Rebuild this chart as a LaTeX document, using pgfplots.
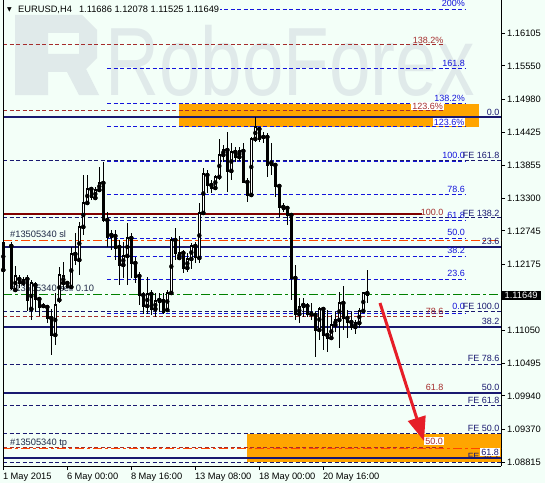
\documentclass[border=0pt]{standalone}
\usepackage{graphicx}
\usepackage{pgfplots}
\pgfplotsset{compat=1.18}
\usepackage{pgfplotstable}
\usetikzlibrary{arrows.meta}
\usepackage{fontspec}
\setmainfont{Liberation Sans}
\newfontfamily\dejavu{DejaVu Sans}
\definecolor{bg}{RGB}{243,255,248}
\definecolor{wm}{RGB}{224,234,234}
\definecolor{fibblue}{RGB}{20,20,220}
\definecolor{navyl}{RGB}{25,25,112}
\definecolor{brownd}{RGB}{165,45,45}
\definecolor{maroonl}{RGB}{128,0,0}
\definecolor{ored}{RGB}{255,69,0}
\definecolor{ogreen}{RGB}{0,128,0}
\definecolor{orangebox}{RGB}{255,165,0}
\definecolor{arrowred}{RGB}{230,30,40}
\definecolor{lbltext}{RGB}{30,40,70}
\tikzset{
  dsh/.style={dash pattern=on 4pt off 2.5pt, line width=1pt},
  dd/.style={dash pattern=on 9pt off 3pt on 3pt off 3pt, line width=1pt},
  thk/.style={line width=2pt},
}
\newcommand{\lvl}[4]{\addplot[#1, forget plot] coordinates {(#2,#4) (#3,#4)};}
\newcommand{\lab}[4]{\node[anchor=east, inner sep=0.5pt, text=#1, font=\fontsize{9}{10}\selectfont] at (axis cs:#2,#3) {#4};}
\newcommand{\labw}[4]{\node[anchor=east, inner xsep=1pt, inner ysep=0.5pt, fill=white, text=#1, font=\fontsize{9}{10}\selectfont] at (axis cs:#2,#3) {#4};}

\pgfplotstableread{
k o h l c
0 1.12081 1.12676 1.11996 1.12540
2 1.12489 1.12557 1.11741 1.11775
3 1.11741 1.12149 1.11724 1.11979
4 1.11928 1.11996 1.11775 1.11860
5 1.11860 1.11962 1.11809 1.11911
6 1.11928 1.11996 1.11384 1.11571
7 1.11418 1.11911 1.11231 1.11860
8 1.11826 1.11877 1.11367 1.11588
9 1.11588 1.11622 1.11299 1.11452
10 1.11469 1.11520 1.11435 1.11452
11 1.11452 1.11486 1.11180 1.11265
12 1.11265 1.11418 1.10636 1.10976
13 1.10976 1.11690 1.10806 1.11486
14 1.11571 1.12132 1.11520 1.11996
15 1.11860 1.12217 1.11741 1.11979
16 1.11860 1.11894 1.11775 1.11792
17 1.11792 1.12472 1.11775 1.12353
18 1.12353 1.12710 1.12166 1.12251
19 1.12251 1.12897 1.11996 1.12812
20 1.12812 1.13696 1.12676 1.13220
21 1.13220 1.13696 1.13186 1.13458
22 1.13458 1.13492 1.13271 1.13322
23 1.13305 1.13492 1.13271 1.13441
24 1.13441 1.13832 1.13407 1.13560
25 1.13560 1.13917 1.12897 1.12931
26 1.12931 1.13067 1.12472 1.12642
27 1.12676 1.12761 1.12421 1.12642
28 1.12659 1.12761 1.12251 1.12455
29 1.12472 1.12591 1.11826 1.12166
30 1.12166 1.12557 1.11945 1.12319
31 1.12319 1.12880 1.11826 1.12625
32 1.12625 1.12710 1.11945 1.12200
33 1.12200 1.12302 1.11860 1.11962
34 1.11979 1.12047 1.11486 1.11656
35 1.11656 1.11707 1.11333 1.11469
36 1.11469 1.11962 1.11333 1.11673
37 1.11673 1.11741 1.11316 1.11418
38 1.11418 1.11690 1.11282 1.11554
39 1.11571 1.11690 1.11367 1.11537
40 1.11554 1.11690 1.11333 1.11367
41 1.11401 1.11741 1.11367 1.11690
42 1.11690 1.12642 1.11673 1.12591
43 1.12591 1.12795 1.12251 1.12370
44 1.12285 1.12659 1.12251 1.12370
45 1.12370 1.12421 1.12030 1.12115
46 1.12115 1.12370 1.12047 1.12268
47 1.12268 1.12540 1.12098 1.12489
48 1.12489 1.12557 1.12200 1.12302
49 1.12285 1.13220 1.12200 1.13050
50 1.13050 1.13815 1.13016 1.13713
51 1.13696 1.13781 1.13390 1.13526
52 1.13526 1.13611 1.13390 1.13475
53 1.13475 1.13696 1.13441 1.13662
54 1.13662 1.14308 1.13611 1.14036
55 1.14036 1.14206 1.13917 1.14121
56 1.14121 1.14427 1.13407 1.13764
57 1.13764 1.14240 1.13611 1.14087
58 1.14087 1.14172 1.13917 1.14002
59 1.14002 1.14172 1.13934 1.14104
60 1.14104 1.14240 1.13560 1.13577
61 1.13577 1.13645 1.13237 1.13356
62 1.13356 1.14342 1.13322 1.14308
63 1.14308 1.14682 1.14257 1.14512
64 1.14478 1.14512 1.14257 1.14308
65 1.14342 1.14427 1.14240 1.14325
66 1.14342 1.14410 1.13662 1.13866
67 1.13900 1.14240 1.13696 1.13866
68 1.13866 1.13900 1.13322 1.13509
69 1.13509 1.13526 1.12982 1.13152
70 1.13152 1.13220 1.13067 1.13118
71 1.13135 1.13152 1.12846 1.13016
72 1.13016 1.13033 1.11571 1.11945
73 1.11945 1.12166 1.11231 1.11333
74 1.11333 1.11605 1.11180 1.11452
75 1.11486 1.11605 1.11282 1.11452
76 1.11469 1.11520 1.11282 1.11333
77 1.11333 1.11520 1.11231 1.11316
78 1.11316 1.11367 1.10602 1.11061
79 1.11061 1.11452 1.10891 1.11418
80 1.11418 1.11435 1.10721 1.10976
81 1.10976 1.11401 1.10687 1.10925
82 1.10925 1.11316 1.10891 1.11146
83 1.11146 1.11367 1.11027 1.11231
84 1.11231 1.11707 1.10755 1.11520
85 1.11520 1.11809 1.11061 1.11265
86 1.11265 1.11401 1.10925 1.11197
87 1.11197 1.11367 1.11061 1.11112
88 1.11112 1.11231 1.10993 1.11180
89 1.11180 1.11435 1.11095 1.11384
90 1.11384 1.11707 1.11350 1.11690
91 1.11686 1.12078 1.11525 1.11649
}\candles

\begin{document}
\begin{tikzpicture}
\fill[bg] (0,0) rectangle (545pt,483pt);
\begin{scope}[x=1pt, y=-1pt, yshift=483pt]
  \fill[wm, even odd rule] (15,15) -- (82,15) -- (97,30) -- (97,58) -- (86,69) -- (99,95) -- (79,95) -- (67,72) -- (48,72) -- (48,95) -- (15,95) -- cycle
     (48,33) -- (79,33) -- (79,54) -- (48,54) -- cycle;
  \node[anchor=base west, inner sep=0pt, text=wm, font=\fontsize{97}{100}\selectfont] at (105,95) {\scalebox{0.77}[1]{RoboForex}};
\end{scope}
\begin{axis}[
  at={(3pt,17pt)}, anchor=south west,
  scale only axis, width=498pt, height=466pt,
  xmin=-0.075, xmax=124.425, ymin=1.08749, ymax=1.16671,
  axis x line*=bottom, axis y line*=right,
  axis line style={black, line width=1pt},
  clip=false,
  tick align=outside, major tick length=4pt,
  tick style={black, line width=1pt},
  xtick={0,16,32,48,64,80},
  xticklabels={1 May 2015,6 May 00:00,8 May 16:00,13 May 08:00,18 May 00:00,20 May 16:00},
  xticklabel style={anchor=north west, inner sep=0pt, xshift=-0.5pt, yshift=-2.5pt},
  ytick={1.16105,1.15550,1.14980,1.14425,1.13855,1.13300,1.12745,1.12175,1.11050,1.10495,1.09940,1.09370,1.08815},
  yticklabels={1.16105,1.15550,1.14980,1.14425,1.13855,1.13300,1.12745,1.12175,1.11050,1.10495,1.09940,1.09370,1.08815},
  yticklabel style={anchor=west, inner sep=0pt, xshift=2pt},
  tick label style={font=\fontsize{9.3}{11}\selectfont},
]
% orange zones
\addplot[fill=orangebox, draw=none, forget plot] coordinates {(43.925,1.14903) (118.925,1.14903) (118.925,1.14512) (43.925,1.14512)};
\addplot[fill=orangebox, draw=none, forget plot] coordinates {(60.925,1.09293) (124.425,1.09293) (124.425,1.08817) (60.925,1.08817)};
% blue fibonacci retracement
\lvl{fibblue,dsh}{25.925}{115.425}{1.16501}
\lvl{fibblue,dsh}{25.925}{115.425}{1.15498}
\lvl{fibblue,dsh}{25.925}{115.425}{1.14903}
\lvl{fibblue,dsh}{25.925}{115.425}{1.14512}
\lvl{fibblue,dsh}{25.925}{115.425}{1.13926}
\lvl{fibblue,dsh}{25.925}{115.425}{1.13356}
\lvl{fibblue,dsh}{25.925}{115.425}{1.12914}
\lvl{fibblue,dsh}{25.925}{115.425}{1.12613}
\lvl{fibblue,dsh}{25.925}{115.425}{1.12319}
\lvl{fibblue,dsh}{25.925}{115.425}{1.11928}
\lvl{fibblue,dsh}{25.925}{115.425}{1.11338}
% brown fibonacci
\lvl{brownd,dsh}{-0.075}{110.1}{1.15906}
\lvl{brownd,dsh}{-0.075}{110.1}{1.14784}
\lvl{brownd,dsh}{-0.075}{110.1}{1.12977}
\lvl{brownd,dsh}{-0.075}{110.1}{1.11299}
\lvl{brownd,dsh}{-0.075}{110.1}{1.09067}
% FE navy dashed
\lvl{navyl,dsh}{-0.075}{124.425}{1.13934}
\lvl{navyl,dsh}{-0.075}{124.425}{1.12965}
\lvl{navyl,dsh}{-0.075}{124.425}{1.11372}
\lvl{navyl,dsh}{-0.075}{124.425}{1.10478}
\lvl{navyl,dsh}{-0.075}{124.425}{1.09781}
\lvl{navyl,dsh}{-0.075}{124.425}{1.09305}
\lvl{navyl,dsh}{-0.075}{124.425}{1.08812}
% thick lines
\lvl{maroonl,thk}{-0.075}{104.675}{1.13028}
\lvl{navyl,thk}{-0.075}{124.425}{1.14682}
\lvl{navyl,thk}{-0.075}{124.425}{1.12477}
\lvl{navyl,thk}{-0.075}{124.425}{1.11117}
\lvl{navyl,thk}{-0.075}{124.425}{1.09995}
\lvl{navyl,thk}{-0.075}{124.425}{1.08890}
% order lines
\lvl{ored,dd}{-0.075}{124.425}{1.12591}
\lvl{ored,dd}{-0.075}{124.425}{1.09050}
\lvl{ogreen,dd}{-0.075}{124.425}{1.11668}
% blue labels
\lab{fibblue}{115.55}{1.16620}{200\%}
\lab{fibblue}{115.55}{1.15600}{161.8}
\lab{fibblue}{115.55}{1.15005}{138.2\%}
\lab{fibblue}{115.55}{1.14036}{100.0}
\lab{fibblue}{115.55}{1.13458}{78.6}
\lab{fibblue}{115.55}{1.13016}{61.8}
\lab{fibblue}{115.55}{1.12727}{50.0}
\lab{fibblue}{115.55}{1.12421}{38.2}
\lab{fibblue}{115.55}{1.12030}{23.6}
\lab{fibblue}{115.55}{1.11469}{0.0}
\labw{fibblue}{115.55}{1.14597}{123.6\%}
% brown labels
\lab{brownd}{110.2}{1.15991}{138.2\%}
\lab{brownd}{110.2}{1.13067}{100.0}
\lab{brownd}{110.2}{1.11384}{78.6}
\lab{brownd}{110.2}{1.10092}{61.8}
\labw{brownd}{110.2}{1.14869}{123.6\%}
\labw{brownd}{110.2}{1.09174}{50.0}
% navy labels
\lab{navyl}{124.175}{1.14767}{0.0}
\lab{navyl}{124.175}{1.14036}{FE 161.8}
\lab{navyl}{124.175}{1.13050}{FE 138.2}
\lab{navyl}{124.175}{1.12574}{23.6}
\lab{navyl}{124.175}{1.11469}{FE 100.0}
\lab{navyl}{124.175}{1.11214}{38.2}
\lab{navyl}{124.175}{1.10585}{FE 78.6}
\lab{navyl}{124.175}{1.10092}{50.0}
\lab{navyl}{124.175}{1.09871}{FE 61.8}
\lab{navyl}{124.175}{1.09395}{FE 50.0}
\lab{navyl}{124.175}{1.08919}{FE 38.2}
\labw{navyl}{124.175}{1.08987}{61.8}
% order texts
\node[anchor=west, inner sep=0pt, text=lbltext, font=\fontsize{9.3}{11}\selectfont] at (axis cs:1.675,1.12693) {\#13505340 sl};
\node[anchor=west, inner sep=0pt, text=lbltext, font=\fontsize{9.3}{11}\selectfont] at (axis cs:1.675,1.11775) {\#13505340 sell 0.10};
\node[anchor=west, inner sep=0pt, text=lbltext, font=\fontsize{9.3}{11}\selectfont] at (axis cs:1.675,1.09140) {\#13505340 tp};
% candles: wicks
\addplot[only marks, mark=none, forget plot,
  error bars/.cd, y dir=both, y explicit, error mark=none,
  error bar style={draw=black, line width=1pt, solid}]
  table[x=k, y=o, y error plus expr=\thisrow{h}-\thisrow{o}, y error minus expr=\thisrow{o}-\thisrow{l}] {\candles};
% candle bodies (outline / black)
\addplot[only marks, mark=none, forget plot,
  error bars/.cd, y dir=both, y explicit, error mark=none,
  error bar style={draw=black, line width=3.4pt, solid}]
  table[x=k, y=o, y error plus expr={max(\thisrow{c}-\thisrow{o},0)+0.00009}, y error minus expr={max(\thisrow{o}-\thisrow{c},0)+0.00009}] {\candles};
% white interiors of rising candles
\addplot[only marks, mark=none, forget plot, unbounded coords=discard,
  error bars/.cd, y dir=both, y explicit, error mark=none,
  error bar style={draw=white, line width=1.4pt, solid}]
  table[x=k, y expr={(\thisrow{c}-\thisrow{o}>0.0002) ? 0.5*(\thisrow{o}+\thisrow{c}) : nan}, y error expr={0.5*(\thisrow{c}-\thisrow{o})-0.00009}] {\candles};
% left frame
\draw[black, line width=1pt] (rel axis cs:0,0) -- (rel axis cs:0,1);
% current price
\node[anchor=west, fill=black, text=white, inner xsep=3.5pt, inner ysep=1.5pt, font=\fontsize{9.3}{11}\selectfont] at (axis cs:124.425,1.11649) {1.11649};
\end{axis}
\begin{scope}[x=1pt, y=-1pt, yshift=483pt]
  \node[anchor=west, inner xsep=0.5pt, inner ysep=0.5pt, fill=bg, font=\fontsize{9.3}{11}\selectfont] at (17.5,10) {EURUSD,H4\hspace{4.5pt} 1.11686 1.12078 1.11525 1.11649};
  \node[inner sep=0pt, font=\dejavu\fontsize{6}{6}\selectfont] at (9.5,10) {▼};
  \draw[arrowred, line width=3pt, -{Triangle[length=24pt, width=18pt]}] (380,303) -- (424,441);
\end{scope}
\pgfresetboundingbox
\path (0,0) rectangle (545pt,483pt);
\end{tikzpicture}
\end{document}
